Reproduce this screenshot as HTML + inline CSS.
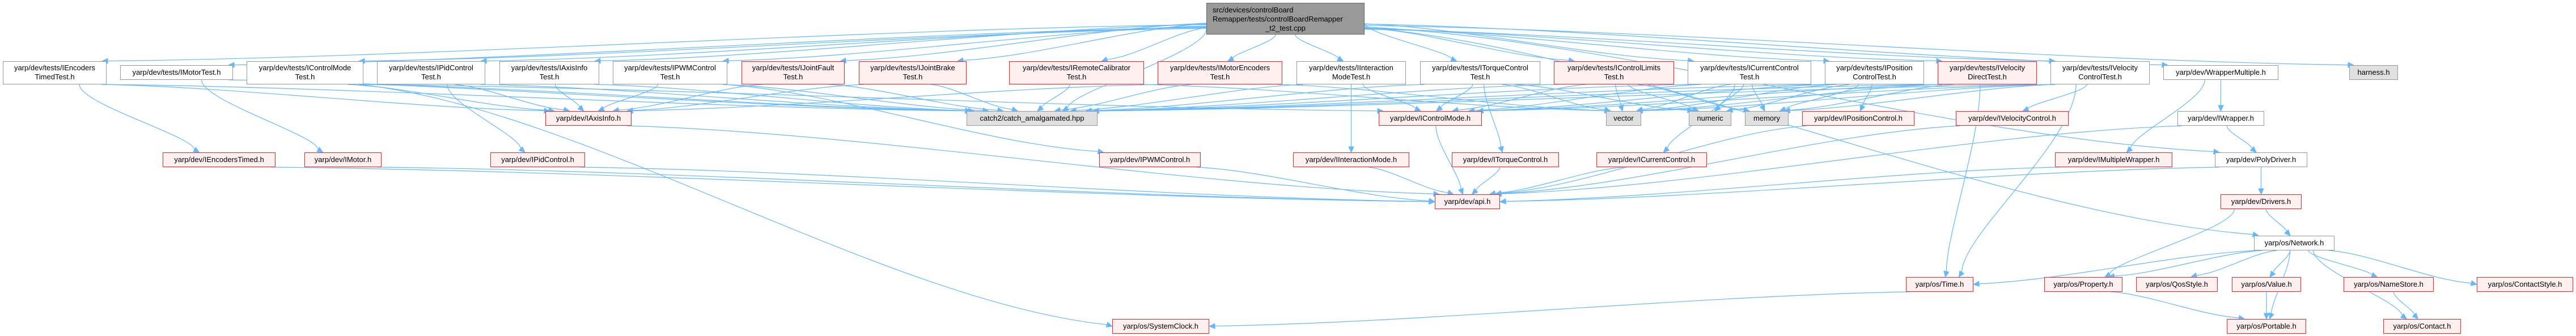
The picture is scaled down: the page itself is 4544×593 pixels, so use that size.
<!DOCTYPE html>
<html><head><meta charset="utf-8">
<style>
html,body{margin:0;padding:0;background:#fff;}
#c{position:relative;width:4544px;height:593px;overflow:hidden;background:#fff;}
svg{position:absolute;left:0;top:0;}
.n{position:absolute;box-sizing:border-box;border:1.5px solid #999;background:#fff;font-family:"Liberation Sans",sans-serif;font-size:13px;color:#000;text-align:center;white-space:nowrap;z-index:2;}
.s{height:26px;line-height:23px;}
.d{height:41px;line-height:16px;padding-top:3px;}
.r{border-color:#ff2020;background:#fff0f0;}
.g{background:#e0e0e0;border-color:#999;}
</style></head><body>
<div id="c">
<svg id="sv" width="4544" height="593"></svg>
<div class="n" id="main" style="left:2128px;top:5px;width:279px;height:56px;background:#999;border-color:#666;line-height:16px;padding-top:4px;text-align:left;padding-left:10px;">src/devices/controlBoard<br>Remapper/tests/controlBoardRemapper<br><span style="display:block;text-align:center;margin-left:-10px">_t2_test.cpp</span></div>

<div class="n d" id="t_enc" style="left:5px;top:108px;width:183px;">yarp/dev/tests/IEncoders<br>TimedTest.h</div>
<div class="n s" id="t_motor" style="left:212px;top:115px;width:199px;">yarp/dev/tests/IMotorTest.h</div>
<div class="n d" id="t_cm" style="left:435px;top:108px;width:206px;">yarp/dev/tests/IControlMode<br>Test.h</div>
<div class="n d" id="t_pid" style="left:665px;top:108px;width:191px;">yarp/dev/tests/IPidControl<br>Test.h</div>
<div class="n d" id="t_axis" style="left:881px;top:108px;width:176px;">yarp/dev/tests/IAxisInfo<br>Test.h</div>
<div class="n d" id="t_pwm" style="left:1081px;top:108px;width:202px;">yarp/dev/tests/IPWMControl<br>Test.h</div>
<div class="n d r" id="t_jf" style="left:1308px;top:108px;width:182px;">yarp/dev/tests/IJointFault<br>Test.h</div>
<div class="n d r" id="t_jb" style="left:1515px;top:108px;width:190px;">yarp/dev/tests/IJointBrake<br>Test.h</div>
<div class="n d r" id="t_rc" style="left:1780px;top:108px;width:238px;">yarp/dev/tests/IRemoteCalibrator<br>Test.h</div>
<div class="n d r" id="t_me" style="left:2042px;top:108px;width:220px;">yarp/dev/tests/IMotorEncoders<br>Test.h</div>
<div class="n d" id="t_im" style="left:2287px;top:108px;width:193px;">yarp/dev/tests/IInteraction<br>ModeTest.h</div>
<div class="n d" id="t_tc" style="left:2505px;top:108px;width:212px;">yarp/dev/tests/ITorqueControl<br>Test.h</div>
<div class="n d r" id="t_cl" style="left:2741px;top:108px;width:212px;">yarp/dev/tests/IControlLimits<br>Test.h</div>
<div class="n d" id="t_cc" style="left:2977px;top:108px;width:218px;">yarp/dev/tests/ICurrentControl<br>Test.h</div>
<div class="n d" id="t_pc" style="left:3219px;top:108px;width:175px;">yarp/dev/tests/IPosition<br>ControlTest.h</div>
<div class="n d r" id="t_vd" style="left:3418px;top:108px;width:175px;">yarp/dev/tests/IVelocity<br>DirectTest.h</div>
<div class="n d" id="t_vc" style="left:3617px;top:108px;width:175px;">yarp/dev/tests/IVelocity<br>ControlTest.h</div>
<div class="n s" id="wm" style="left:3816px;top:115px;width:203px;">yarp/dev/WrapperMultiple.h</div>
<div class="n s g" id="harness" style="left:4144px;top:115px;width:86px;">harness.h</div>

<div class="n s r" id="axis" style="left:962px;top:196px;width:152px;">yarp/dev/IAxisInfo.h</div>
<div class="n s g" id="catch" style="left:1705px;top:196px;width:231px;">catch2/catch_amalgamated.hpp</div>
<div class="n s r" id="cm" style="left:2432px;top:196px;width:182px;">yarp/dev/IControlMode.h</div>
<div class="n s g" id="vector" style="left:2833px;top:196px;width:62px;">vector</div>
<div class="n s g" id="numeric" style="left:2979px;top:196px;width:75px;">numeric</div>
<div class="n s g" id="memory" style="left:3078px;top:196px;width:77px;">memory</div>
<div class="n s r" id="pc" style="left:3179px;top:196px;width:198px;">yarp/dev/IPositionControl.h</div>
<div class="n s r" id="vc" style="left:3450px;top:196px;width:199px;">yarp/dev/IVelocityControl.h</div>
<div class="n s" id="iwrap" style="left:3841px;top:196px;width:153px;">yarp/dev/IWrapper.h</div>

<div class="n s r" id="enct" style="left:287px;top:269px;width:199px;">yarp/dev/IEncodersTimed.h</div>
<div class="n s r" id="motor" style="left:537px;top:269px;width:136px;">yarp/dev/IMotor.h</div>
<div class="n s r" id="pid" style="left:865px;top:269px;width:167px;">yarp/dev/IPidControl.h</div>
<div class="n s r" id="pwm" style="left:1939px;top:269px;width:179px;">yarp/dev/IPWMControl.h</div>
<div class="n s r" id="imode" style="left:2281px;top:269px;width:205px;">yarp/dev/IInteractionMode.h</div>
<div class="n s r" id="tc" style="left:2561px;top:269px;width:189px;">yarp/dev/ITorqueControl.h</div>
<div class="n s r" id="cc" style="left:2816px;top:269px;width:195px;">yarp/dev/ICurrentControl.h</div>
<div class="n s r" id="mw" style="left:3625px;top:269px;width:207px;">yarp/dev/IMultipleWrapper.h</div>
<div class="n s" id="poly" style="left:3907px;top:269px;width:163px;">yarp/dev/PolyDriver.h</div>

<div class="n s r" id="api" style="left:2531px;top:343px;width:115px;">yarp/dev/api.h</div>
<div class="n s r" id="drivers" style="left:3917px;top:343px;width:143px;">yarp/dev/Drivers.h</div>

<div class="n s" id="network" style="left:3976px;top:416px;width:142px;">yarp/os/Network.h</div>

<div class="n s r" id="time" style="left:3362px;top:489px;width:119px;">yarp/os/Time.h</div>
<div class="n s r" id="property" style="left:3606px;top:489px;width:138px;">yarp/os/Property.h</div>
<div class="n s r" id="qos" style="left:3768px;top:489px;width:144px;">yarp/os/QosStyle.h</div>
<div class="n s r" id="value" style="left:3937px;top:489px;width:122px;">yarp/os/Value.h</div>
<div class="n s r" id="namestore" style="left:4134px;top:489px;width:159px;">yarp/os/NameStore.h</div>
<div class="n s r" id="cstyle" style="left:4369px;top:489px;width:170px;">yarp/os/ContactStyle.h</div>

<div class="n s r" id="sysclock" style="left:1962px;top:563px;width:171px;">yarp/os/SystemClock.h</div>
<div class="n s r" id="portable" style="left:3928px;top:563px;width:140px;">yarp/os/Portable.h</div>
<div class="n s r" id="contact" style="left:4204px;top:563px;width:137px;">yarp/os/Contact.h</div>
</div>
<script>
(function(){
var tests=["t_enc","t_motor","t_cm","t_pid","t_axis","t_pwm","t_jf","t_jb","t_rc","t_me","t_im","t_tc","t_cl","t_cc","t_pc","t_vd","t_vc"];
var E=[];
tests.forEach(function(t){E.push(["main",t]);E.push([t,"catch"]);});
["wm","harness","catch","poly","network"].forEach(function(t){E.push(["main",t]);});
var more=[["t_enc","enct"],["t_motor","motor"],["t_cm","cm"],["t_cm","sysclock"],["t_pid","pid"],["t_pid","axis"],["t_axis","axis"],["t_pwm","pwm"],["t_pwm","axis"],["t_im","imode"],["t_im","cm"],["t_tc","tc"],["t_tc","cm"],["t_tc","vector"],["t_tc","numeric"],["t_cl","vector"],["t_cl","numeric"],["t_cl","memory"],["t_cl","cm"],["t_cc","cc"],["t_cc","vector"],["t_cc","numeric"],["t_cc","memory"],["t_cc","cm"],["t_pc","pc"],["t_pc","vector"],["t_pc","numeric"],["t_pc","memory"],["t_pc","cm"],["t_vd","time"],["t_vd","vector"],["t_vd","cm"],["t_vd","memory"],["t_vc","vc"],["t_vc","time"],["t_vc","vector"],["t_vc","cm"],["t_vc","memory"],["t_enc","axis"],["t_cm","axis"],["t_jf","axis"],["t_me","axis"],["t_me","vector"],["t_jb","axis"],["t_rc","vector"],
["enct","api"],["motor","api"],["pid","api"],["pwm","api"],["imode","api"],["tc","api"],["cc","api"],["mw","api"],["cm","api"],["axis","api"],["pc","api"],["vc","api"],["iwrap","api"],["poly","api"],
["wm","iwrap"],["wm","mw"],["iwrap","poly"],["poly","drivers"],["drivers","network"],["drivers","property"],
["network","time"],["network","property"],["network","qos"],["network","value"],["network","namestore"],["network","cstyle"],["network","contact"],["network","portable"],
["value","portable"],["namestore","contact"],["property","portable"],["time","sysclock"]];
E=E.concat(more);
var sv=document.getElementById("sv"),ns="http://www.w3.org/2000/svg",col="#63b8ff";
function R(id){var e=document.getElementById(id);var l=e.offsetLeft,t=e.offsetTop,w=e.offsetWidth,h=e.offsetHeight;return{l:l,t:t,r:l+w,b:t+h,cx:l+w/2,cy:t+h/2,w:w,h:h};}
function cl(v,a,b){return Math.max(a,Math.min(b,v));}
var html="";
E.forEach(function(p){
 var s=R(p[0]),t=R(p[1]);var sx,sy,tx,ty;
 if(t.t>=s.b){
   if(p[0]=="main"&&(t.cx<s.l||t.cx>s.r)){sx=t.cx<s.l?s.l:s.r;sy=s.t+35+((t.cx*7)%12);}
   else{sx=cl(s.cx+(t.cx-s.cx)*0.15,s.l+8,s.r-8);sy=s.b;}
   if(p[1]=="sysclock"){ if(s.cx>t.r){tx=t.r;ty=t.cy;}else{tx=t.l;ty=t.cy;} }
   else if(t.cy-s.cy<80&&Math.abs(t.cx-s.cx)>400){tx=(s.cx<t.l)?t.l:t.r;ty=t.cy;}
   else{tx=cl(t.cx+(s.cx-t.cx)*0.12,t.l+8,t.r-8);ty=t.t;}
 }else{sx=s.cx;sy=s.b;tx=t.cx;ty=t.t;}
 var dx=tx-sx,dy=ty-sy,L=Math.sqrt(dx*dx+dy*dy),ux=dx/L,uy=dy/L;
 var ex=tx-ux*10,ey=ty-uy*10;
 var c1x=sx,c1y=sy+(ey-sy)*0.3,c2x=ex,c2y=ey-(ey-sy)*0.2;
 if(Math.abs(dx)>3*Math.abs(dy)){c1x=sx+(ex-sx)*0.3;c1y=sy+(ey-sy)*0.1;c2x=sx+(ex-sx)*0.7;c2y=ey-(ey-sy)*0.1;}
 html+='<path d="M'+sx+','+sy+' C'+c1x+','+c1y+' '+c2x+','+c2y+' '+ex+','+ey+'" fill="none" stroke="'+col+'" stroke-width="1.2"/>';
 var px=-uy*4.5,py=ux*4.5;
 html+='<polygon points="'+tx+','+ty+' '+(ex+px)+','+(ey+py)+' '+(ex-px)+','+(ey-py)+'" fill="'+col+'" stroke="'+col+'"/>';
});
sv.innerHTML=html;
})();
</script>
</body></html>
